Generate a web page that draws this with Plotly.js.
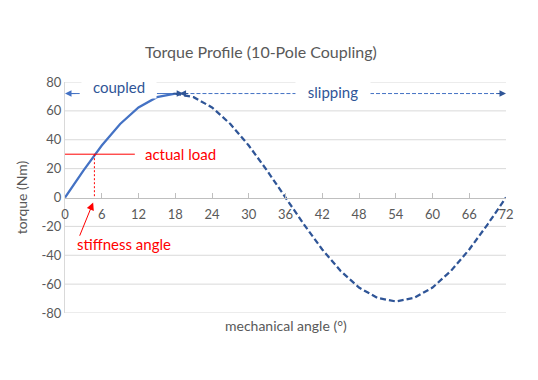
<!DOCTYPE html>
<html>
<head>
<meta charset="utf-8">
<script src="https://cdn.plot.ly/plotly-3.0.1.min.js"></script>
<style>html,body{margin:0;padding:0;background:#fff;}#chart{width:538px;height:380px;}</style>
</head>
<body>
<div id="chart"></div>
<script>
// Data
const angleCoupled = [0, 3, 6, 9, 12, 15, 18];
const torqueCoupled = [0, 18.6, 36, 50.9, 62.4, 69.5, 72];
const angleSlipping = [18, 21, 24, 27, 30, 33, 36, 39, 42, 45, 48, 51, 54, 57, 60, 63, 66, 69, 72];
const torqueSlipping = [72, 69.5, 62.4, 50.9, 36, 18.6, 0, -18.6, -36, -50.9, -62.4, -69.5, -72, -69.5, -62.4, -50.9, -36, -18.6, 0];
const xTicks = [0, 6, 12, 18, 24, 30, 36, 42, 48, 54, 60, 66, 72];
const yTicks = [-80, -60, -40, -20, 0, 20, 40, 60, 80];
const actualLoad = 30;
const stiffnessAngle = 4.8;
const peakTorque = 72;

const FONT = 'Lato, "Open Sans", sans-serif';
const BLUE = '#4472C4';
const DARK = '#2F5597';
const RED = '#FF0000';

const traces = [
  {x: angleCoupled, y: torqueCoupled, mode: 'lines', line: {color: BLUE, width: 2.25}, hoverinfo: 'skip'},
  {x: angleSlipping, y: torqueSlipping, mode: 'lines', line: {color: DARK, width: 2.25, dash: '6px,3px'}, hoverinfo: 'skip'}
];

const gridShapes = yTicks.filter(v => v !== 0).map(v => ({
  type: 'line', xref: 'x', yref: 'y', x0: 0, x1: 72, y0: v, y1: v, layer: 'below', line: {color: '#D9D9D9', width: 1}
}));

const layout = {
  width: 538, height: 380,
  margin: {l: 65, r: 32, t: 82, b: 67},
  paper_bgcolor: '#fff', plot_bgcolor: '#fff',
  showlegend: false,
  font: {family: FONT, color: '#595959', size: 13},
  title: {text: 'Torque Profile (10-Pole Coupling)', font: {family: FONT, size: 16, color: '#595959'}, x: 0.485, xanchor: 'center', y: 0.862, yanchor: 'middle'},
  xaxis: {
    range: [0, 72], tickvals: xTicks, ticktext: xTicks.map(String),
    anchor: 'free', position: 0.5,
    showgrid: false, zeroline: false,
    showline: true, linecolor: '#BFBFBF', linewidth: 1,
    ticks: 'inside', ticklen: 5, tickcolor: '#BFBFBF',
    ticklabelstandoff: 5,
    tickfont: {family: FONT, size: 13, color: '#595959'}
  },
  yaxis: {
    range: [-80, 80], tickvals: yTicks, ticktext: yTicks.map(String),
    showgrid: false,
    zeroline: false, showline: true, linecolor: '#D9D9D9',
    ticks: '', tickfont: {family: FONT, size: 13, color: '#595959'},
    title: {text: 'torque (Nm)', font: {family: FONT, size: 14, color: '#595959'}, standoff: 10}
  },
  shapes: gridShapes.concat([
    {type: 'line', xref: 'x', yref: 'y', x0: 0, x1: 11.4, y0: actualLoad, y1: actualLoad, line: {color: RED, width: 1}},
    {type: 'line', xref: 'x', yref: 'y', x0: stiffnessAngle, x1: stiffnessAngle, y0: actualLoad, y1: 0, line: {color: RED, width: 1, dash: '2px,2px'}},
    {type: 'line', xref: 'x', yref: 'y', x0: 0.5, x1: 2.4, y0: peakTorque, y1: peakTorque, line: {color: BLUE, width: 1}},
    {type: 'line', xref: 'x', yref: 'y', x0: 15, x1: 18, y0: peakTorque, y1: peakTorque, line: {color: BLUE, width: 1}},
    {type: 'line', xref: 'x', yref: 'y', x0: 19.5, x1: 37.7, y0: peakTorque, y1: peakTorque, line: {color: BLUE, width: 1, dash: '4px,2px'}},
    {type: 'line', xref: 'x', yref: 'y', x0: 49.8, x1: 71, y0: peakTorque, y1: peakTorque, line: {color: BLUE, width: 1, dash: '4px,2px'}}
  ]),
  annotations: [
    {text: 'coupled', xref: 'x', yref: 'y', x: 8.8, y: 76.8, width: 74, height: 22, showarrow: false, bgcolor: '#fff', borderpad: 0, font: {family: FONT, size: 15, color: DARK}},
    {text: 'slipping', xref: 'x', yref: 'y', x: 43.8, y: 73, width: 74, height: 24, showarrow: false, bgcolor: '#fff', borderpad: 0, font: {family: FONT, size: 15, color: DARK}},
    {text: '', xref: 'x', yref: 'y', x: 0, y: peakTorque, ax: 12, ay: 0, showarrow: true, arrowhead: 2, arrowsize: 1.3, arrowwidth: 1, arrowcolor: BLUE},
    {text: '', xref: 'x', yref: 'y', x: 19.3, y: peakTorque, ax: -12, ay: 0, showarrow: true, arrowhead: 2, arrowsize: 1.3, arrowwidth: 1, arrowcolor: DARK},
    {text: '', xref: 'x', yref: 'y', x: 18.7, y: peakTorque, ax: 10, ay: 0, showarrow: true, arrowhead: 2, arrowsize: 1.3, arrowwidth: 1, arrowcolor: DARK},
    {text: '', xref: 'x', yref: 'y', x: 72, y: peakTorque, ax: -10, ay: 0, showarrow: true, arrowhead: 2, arrowsize: 1.3, arrowwidth: 1, arrowcolor: DARK},
    {text: 'actual load', xref: 'x', yref: 'y', x: 12.8, y: actualLoad, xanchor: 'left', showarrow: false, font: {family: FONT, size: 15, color: RED}},
    {text: 'stiffness angle', xref: 'x', yref: 'y', x: 9.6, y: -32.5, showarrow: false, font: {family: FONT, size: 15, color: RED}},
    {text: '', xref: 'x', yref: 'y', x: stiffnessAngle - 0.2, y: -3.5, axref: 'x', ayref: 'y', ax: 2.3, ay: -27.5, showarrow: true, arrowhead: 2, arrowsize: 1.5, arrowwidth: 1, arrowcolor: RED},
    {text: 'mechanical angle (°)', xref: 'paper', yref: 'paper', x: 0.5, y: -0.01, yanchor: 'top', showarrow: false, font: {family: FONT, size: 14, color: '#595959'}}
  ]
};

Plotly.newPlot('chart', traces, layout, {staticPlot: true, displayModeBar: false});
</script>
</body>
</html>
